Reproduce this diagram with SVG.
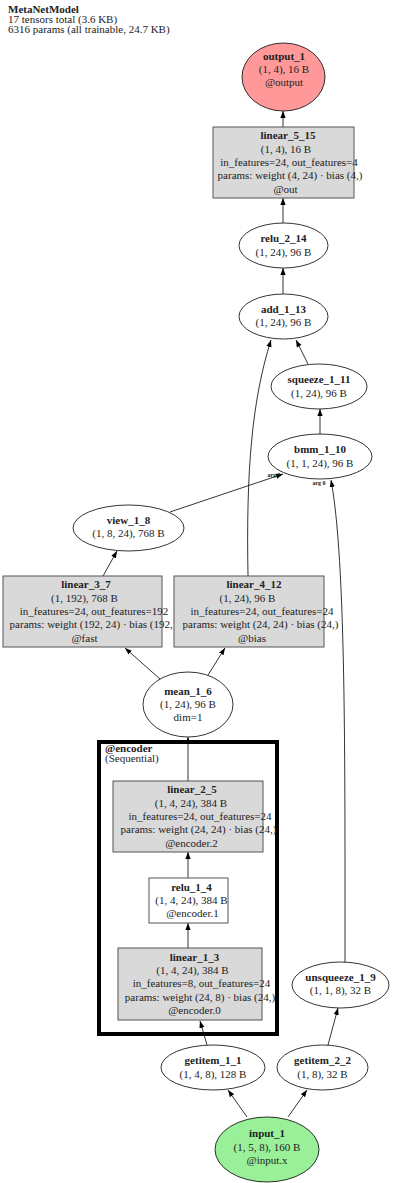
<svg xmlns="http://www.w3.org/2000/svg" width="400" height="1183" viewBox="0 0 400 1183">
<style>
text{font-family:"Liberation Serif","Times New Roman",serif;font-size:11px;fill:#222;text-anchor:middle}
.b{font-weight:bold}
.l{text-anchor:start}
.el{fill:#fff;stroke:#000;stroke-width:0.8}
.box{fill:#d9d9d9;stroke:#555;stroke-width:1}
.wbox{fill:#fff;stroke:#555;stroke-width:1}
.e{fill:none;stroke:#000;stroke-width:0.8;marker-end:url(#ah)}
.arg{font-size:6px;font-weight:bold}
</style>
<defs>
<marker id="ah" markerUnits="userSpaceOnUse" markerWidth="7" markerHeight="6" refX="7" refY="3" orient="auto">
<path d="M0,0.4 L7,3 L0,5.6 z" fill="#000"/>
</marker>
</defs>
<rect width="400" height="1183" fill="#fff"/>
<g id="title">
<text class="b l" x="8" y="13">MetaNetModel</text>
<text class="l" x="8" y="23">17 tensors total (3.6 KB)</text>
<text class="l" x="8" y="33">6316 params (all trainable, 24.7 KB)</text>
</g>
<g id="cluster_encoder">
<rect x="99" y="742" width="178" height="292" fill="none" stroke="#000" stroke-width="4"/>
<text class="b l" x="105" y="752">@encoder</text>
<text class="l" x="105" y="762">(Sequential)</text>
</g>
<g id="edges">
<path class="e" d="M283,127 L283,111"/>
<path class="e" d="M283,223 L283,198"/>
<path class="e" d="M283,294 L283,268"/>
<path class="e" d="M308,364 L296,340"/>
<path class="e" d="M248,576 C246,470 252,400 271,340"/>
<path class="e" d="M320,434 L320,409"/>
<path class="e" d="M170,512 L283,474"/>
<path class="e" d="M345,962 C345,760 346,560 331,480"/>
<path class="e" d="M103,576 L117,551"/>
<path class="e" d="M160,679 L125,648"/>
<path class="e" d="M208,675 L225,648"/>
<path class="e" d="M188,781 L188,737"/>
<path class="e" d="M188,878 L188,852"/>
<path class="e" d="M188,948 L188,923"/>
<path class="e" d="M207,1045 L200,1021"/>
<path class="e" d="M328,1045 L338,1008"/>
<path class="e" d="M247,1117 L228,1090"/>
<path class="e" d="M288,1117 L307,1090"/>
<text class="arg" x="274" y="477">arg 1</text>
<text class="arg" x="319" y="485">arg 0</text>
</g>
<g id="output_1">
<ellipse cx="283.5" cy="77" rx="41.5" ry="34" fill="#ff9999" stroke="#000" stroke-width="0.8"/>
<text class="b" x="284" y="60">output_1</text>
<text x="284" y="73">(1, 4), 16 B</text>
<text x="284" y="86">@output</text>
</g>
<g id="linear_5_15">
<rect class="box" x="213" y="127" width="141" height="71"/>
<text class="b" x="288" y="139">linear_5_15</text>
<text x="286" y="152.5">(1, 4), 16 B</text>
<text x="289" y="166">in_features=24, out_features=4</text>
<text x="290" y="179">params: weight (4, 24) · bias (4,)</text>
<text x="285.5" y="192.5">@out</text>
</g>
<g id="relu_2_14">
<ellipse class="el" cx="283.5" cy="245.5" rx="44.5" ry="22.5"/>
<text class="b" x="283.5" y="241.5">relu_2_14</text>
<text x="283.5" y="255.5">(1, 24), 96 B</text>
</g>
<g id="add_1_13">
<ellipse class="el" cx="283.5" cy="316.5" rx="44.5" ry="22.5"/>
<text class="b" x="283.5" y="312.5">add_1_13</text>
<text x="283.5" y="326">(1, 24), 96 B</text>
</g>
<g id="squeeze_1_11">
<ellipse class="el" cx="319" cy="386.5" rx="48" ry="22.5"/>
<text class="b" x="319" y="382.5">squeeze_1_11</text>
<text x="319" y="396.5">(1, 24), 96 B</text>
</g>
<g id="bmm_1_10">
<ellipse class="el" cx="320" cy="456.5" rx="52" ry="22.5"/>
<text class="b" x="320" y="452.5">bmm_1_10</text>
<text x="320" y="466.5">(1, 1, 24), 96 B</text>
</g>
<g id="view_1_8">
<ellipse class="el" cx="128.5" cy="528" rx="55.5" ry="23"/>
<text class="b" x="128.5" y="523.5">view_1_8</text>
<text x="128.5" y="537">(1, 8, 24), 768 B</text>
</g>
<g id="linear_3_7">
<rect class="box" x="3" y="576" width="159" height="71"/>
<text class="b" x="86" y="588">linear_3_7</text>
<text x="84.5" y="601.5">(1, 192), 768 B</text>
<text x="94" y="615">in_features=24, out_features=192</text>
<text x="93" y="628">params: weight (192, 24) · bias (192,)</text>
<text x="84.5" y="641.5">@fast</text>
</g>
<g id="linear_4_12">
<rect class="box" x="174" y="576" width="150" height="71"/>
<text class="b" x="254" y="588">linear_4_12</text>
<text x="247.5" y="601.5">(1, 24), 96 B</text>
<text x="262" y="615">in_features=24, out_features=24</text>
<text x="260.5" y="628">params: weight (24, 24) · bias (24,)</text>
<text x="252" y="641.5">@bias</text>
</g>
<g id="mean_1_6">
<ellipse class="el" cx="188" cy="704.5" rx="45" ry="32.5"/>
<text class="b" x="188" y="694.5">mean_1_6</text>
<text x="188" y="708">(1, 24), 96 B</text>
<text x="188" y="721">dim=1</text>
</g>
<g id="linear_2_5">
<rect class="box" x="113" y="781" width="150" height="71"/>
<text class="b" x="192" y="793">linear_2_5</text>
<text x="191" y="806.5">(1, 4, 24), 384 B</text>
<text x="200" y="820">in_features=24, out_features=24</text>
<text x="198.5" y="833">params: weight (24, 24) · bias (24,)</text>
<text x="191.5" y="846.5">@encoder.2</text>
</g>
<g id="relu_1_4">
<rect class="wbox" x="149" y="878" width="79" height="45"/>
<text class="b" x="191.5" y="890.5">relu_1_4</text>
<text x="191.5" y="904">(1, 4, 24), 384 B</text>
<text x="192.5" y="917">@encoder.1</text>
</g>
<g id="linear_1_3">
<rect class="box" x="118" y="948" width="144" height="72"/>
<text class="b" x="194.5" y="960.5">linear_1_3</text>
<text x="192.5" y="974">(1, 4, 24), 384 B</text>
<text x="201.5" y="987">in_features=8, out_features=24</text>
<text x="200" y="1000.5">params: weight (24, 8) · bias (24,)</text>
<text x="194.5" y="1014">@encoder.0</text>
</g>
<g id="unsqueeze_1_9">
<ellipse class="el" cx="340.5" cy="985" rx="48.5" ry="23"/>
<text class="b" x="340.5" y="980.5">unsqueeze_1_9</text>
<text x="340.5" y="994">(1, 1, 8), 32 B</text>
</g>
<g id="getitem_1_1">
<ellipse class="el" cx="213" cy="1067.5" rx="52" ry="22.5"/>
<text class="b" x="213" y="1063.5">getitem_1_1</text>
<text x="213" y="1077.5">(1, 4, 8), 128 B</text>
</g>
<g id="getitem_2_2">
<ellipse class="el" cx="322.5" cy="1067.5" rx="45.5" ry="22.5"/>
<text class="b" x="322.5" y="1063.5">getitem_2_2</text>
<text x="322.5" y="1077.5">(1, 8), 32 B</text>
</g>
<g id="input_1">
<ellipse cx="267" cy="1149.5" rx="52" ry="32.5" fill="#99f099" stroke="#000" stroke-width="0.8"/>
<text class="b" x="267" y="1136.5">input_1</text>
<text x="267" y="1150.5">(1, 5, 8), 160 B</text>
<text x="267" y="1163.5">@input.x</text>
</g>
</svg>
